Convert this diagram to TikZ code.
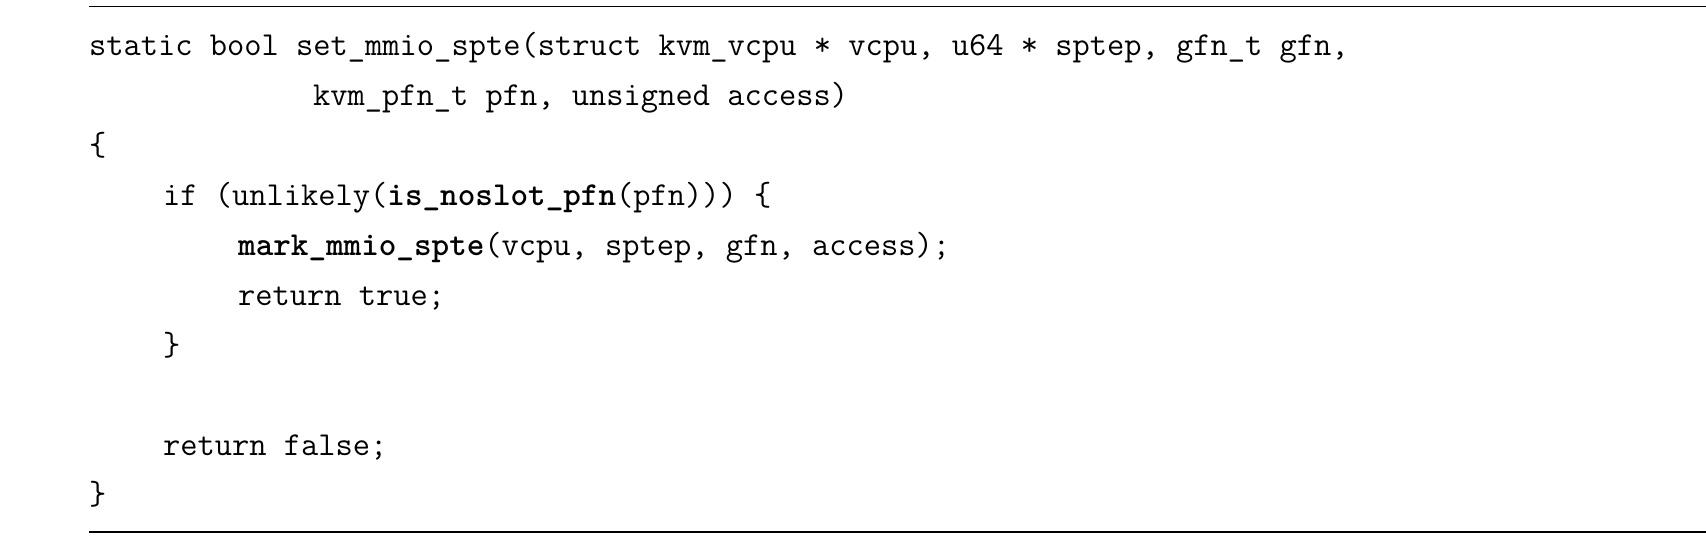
\documentclass[tikz,border=0pt]{standalone}
\begin{document}
\begin{tikzpicture}[x=1pt,y=-1pt,
  code/.style={anchor=base west,inner sep=0pt,font=\fontsize{33.5}{36}\ttfamily}]
\useasboundingbox (0,0) rectangle (1706,541);
\draw[line width=1.3pt] (89,6.5) coordinate(a) -- (1706,6.5) coordinate(b);
\draw[line width=1.3pt] (89,532) coordinate(c) -- (1706,532) coordinate(d);
\node[code] (l1) at (89,55) {static bool set\_mmio\_spte(struct kvm\_vcpu * vcpu, u64 * sptep, gfn\_t gfn,};
\node[code] (l2) at (313,105) {kvm\_pfn\_t pfn, unsigned access)};
\node[code] (l3) at (89,155) {\{};
\node[code] (l4) at (163,205) {if (unlikely(\textbf{is\_noslot\_pfn}(pfn))) \{};
\node[code] (l5) at (238,255) {\textbf{mark\_mmio\_spte}(vcpu, sptep, gfn, access);};
\node[code] (l6) at (238,305) {return true;};
\node[code] (l7) at (163,355) {\}};
\node[code] (l8) at (163,455) {return false;};
\node[code] (l9) at (89,504) {\}};
\end{tikzpicture}
\end{document}
